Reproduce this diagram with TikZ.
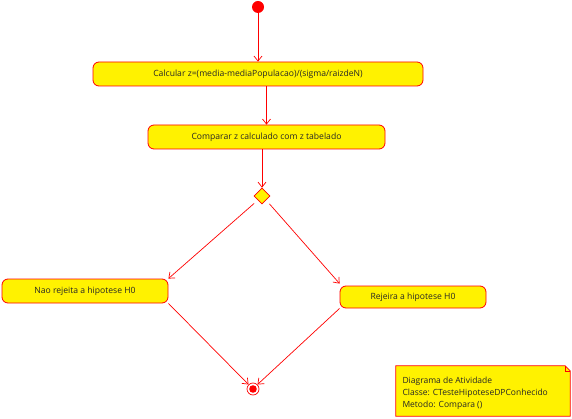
\documentclass[tikz,border=0pt]{standalone}
\usepackage{fontspec}
\setmainfont{Open Sans}
\usetikzlibrary{arrows.meta,shapes.geometric}
\begin{document}
\begin{tikzpicture}[x=1pt,y=-1pt,
  every node/.style={font=\fontsize{8.6}{10}\selectfont, text=black!85},
  action/.style={draw=red, fill=yellow, line width=0.8pt, rounded corners=6pt,
    minimum height=24pt, inner sep=0pt},
  flow/.style={draw=red, line width=0.7pt, -{Straight Barb[length=5pt,width=8pt]}},
  decision/.style={diamond, draw=red, fill=yellow, line width=0.7pt,
    minimum width=16pt, minimum height=16pt, inner sep=0pt}]
\useasboundingbox (0,0) rectangle (572,419);

% initial state
\node[circle, fill=red, minimum size=12pt, inner sep=0pt] (start) at (258,7) {};

% actions
\node[action, minimum width=330pt] (calc) at (258,74)
  {Calcular z=(media-mediaPopulacao)/(sigma/raizdeN)};
\node[action, minimum width=237pt] (comp) at (266.5,137)
  {Comparar z calculado com z tabelado};
\node[decision] (dec) at (262,196) {};
\node[action, minimum width=166pt] (nao) at (85,291) {Nao rejeita a hipotese H0};
\node[action, minimum width=146pt, minimum height=22pt] (rej) at (413,297)
  {Rejeira a hipotese H0};

% final state
\node[circle, draw=red, line width=0.7pt, minimum size=12pt, inner sep=0pt] (fim) at (253,389) {};
\fill[red] (fim.center) circle (3.8pt);

% transitions
\draw[flow] (start) -- (calc.north -| start);
\draw[flow] (calc.south -| comp.north) -- (comp.north);
\draw[flow] (comp.south -| dec.north) -- (dec.north);
\draw[flow, shorten <=5pt] (dec.south west) -- (nao.north east);
\draw[flow, shorten <=5pt] (dec.south east) -- ([yshift=2pt]rej.north west);
\draw[flow] (nao.south east) -- (fim.north west);
\draw[flow] (rej.south west) -- (fim.north east);

% note
\node[minimum width=174pt, minimum height=50pt, inner sep=0pt] (note) at (483,391) {};
\draw[red, fill=yellow, line width=0.8pt]
  (note.north west) -- ([xshift=-5pt]note.north east) -- ([yshift=-5pt]note.north east)
  -- (note.south east) -- (note.south west) -- cycle;
\draw[red, line width=0.5pt]
  ([xshift=-5pt]note.north east) -- ([xshift=-5pt,yshift=-5pt]note.north east)
  -- ([yshift=-5pt]note.north east);
\node[anchor=west, align=left, font=\fontsize{8.5}{12}\selectfont, text=black!85] (notetext) at (399,393)
  {Diagrama de Atividade\\Classe: CTesteHipoteseDPConhecido\\Metodo: Compara ()};
\end{tikzpicture}
\end{document}
